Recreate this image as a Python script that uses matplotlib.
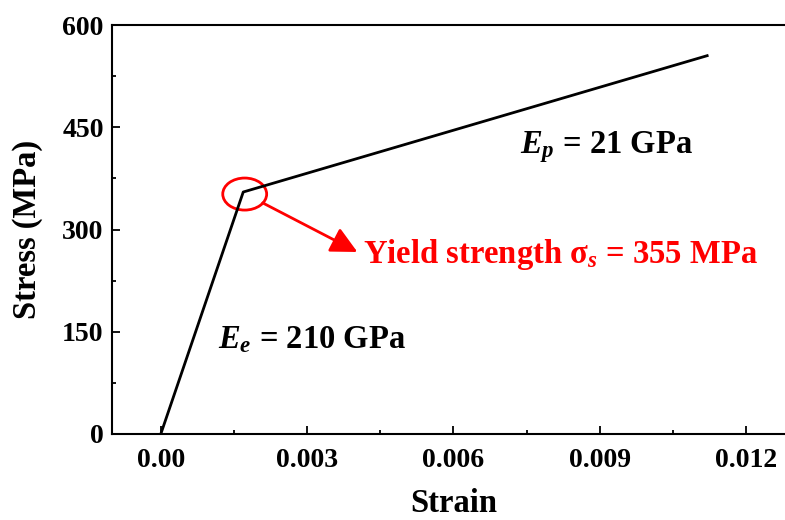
import matplotlib
matplotlib.use("Agg")
import matplotlib.pyplot as plt
from matplotlib.patches import Ellipse
from matplotlib.ticker import MultipleLocator

plt.rcParams['font.family'] = 'Liberation Serif'
plt.rcParams['font.weight'] = 'bold'
plt.rcParams['mathtext.fontset'] = 'custom'
plt.rcParams['mathtext.it'] = 'Liberation Serif:italic:bold'
plt.rcParams['mathtext.rm'] = 'Liberation Serif:bold'
plt.rcParams['mathtext.bf'] = 'Liberation Serif:bold'

# bilinear stress-strain curve
strain = [0.0, 0.00169, 0.0112]
stress = [0, 355, 555]

yield_strain = 0.00172
yield_stress = 352

fig = plt.figure(figsize=(7.85, 5.2), dpi=100)
ax = fig.add_axes([0.1427, 0.1654, 0.870, 0.7865])

ax.plot(strain, stress, color='black', lw=2)

# circle around the yield point + arrow to the label
ax.add_patch(Ellipse((yield_strain, yield_stress), 0.00090, 47,
                     fill=False, edgecolor='red', lw=2))
ax.annotate('', xy=(0.00403, 267), xytext=(0.00209, 339),
            arrowprops=dict(arrowstyle='-|>,head_length=0.4,head_width=0.2',
                            color='red', lw=2, mutation_scale=40,
                            shrinkA=0, shrinkB=0))
ax.text(0.00414, 251, 'Yield strength σ$_s$ = 355 MPa', color='red',
        fontsize=23.5, fontweight='bold', va='baseline', ha='left')
ax.text(0.00736, 412, '$E_p$ = 21 GPa', fontsize=23.5, fontweight='bold',
        va='baseline', ha='left')
ax.text(0.00117, 126, '$E_e$ = 210 GPa', fontsize=23.5, fontweight='bold',
        va='baseline', ha='left')

ax.set_xlim(-0.001, 0.013)
ax.set_ylim(0, 600)
ax.xaxis.set_minor_locator(MultipleLocator(0.0015))
ax.yaxis.set_major_locator(MultipleLocator(150))
ax.yaxis.set_minor_locator(MultipleLocator(75))
ax.set_xticks([0.0, 0.003, 0.006, 0.009, 0.012])
ax.set_xticklabels(['0.00', '0.003', '0.006', '0.009', '0.012'])

ax.tick_params(which='both', direction='in', width=1.3, labelsize=20)
ax.tick_params(which='major', length=6)
ax.tick_params(which='minor', length=3)
ax.tick_params(axis='x', pad=10)
ax.tick_params(axis='y', pad=6)
for sp in ax.spines.values():
    sp.set_linewidth(1.5)

ax.set_xlabel('Strain', fontsize=23.5, fontweight='bold', labelpad=11)
ax.set_ylabel('Stress (MPa)', fontsize=23.5, fontweight='bold', labelpad=14)

fig.savefig('out.png', dpi=100)
